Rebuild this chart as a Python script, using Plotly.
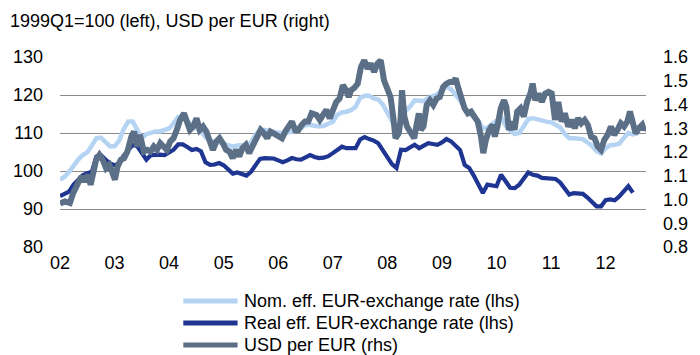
import plotly.graph_objects as go

# Monthly effective exchange rates, Jan 2002 onwards (1999Q1 = 100)
nom_eff = [
    97.7, 98.5, 99.8, 101.6, 103.0, 104.2, 104.9, 106.7, 108.6, 108.8, 107.5, 106.5,
    106.5, 108.0, 111.0, 113.0, 113.0, 111.0, 108.6, 109.7, 110.2, 110.4, 110.4, 110.8,
    111.2, 112.6, 114.2, 114.0, 113.0, 111.9, 111.2, 110.6, 108.9, 107.9, 107.7, 107.7,
    107.2, 106.8, 106.4, 106.7, 106.8, 106.4, 107.5, 109.5, 110.8, 110.8, 110.6, 110.3,
    110.0, 109.9, 110.1, 110.4, 110.6, 111.3, 112.1, 112.1, 112.0, 111.7, 111.9, 112.3,
    113.0, 114.8, 115.4, 115.6, 116.0, 116.9, 119.2, 119.8, 119.8, 119.1, 118.8, 117.5,
    115.2, 113.0, 111.0, 114.0, 115.8, 117.0, 118.6, 118.5, 118.4, 119.2, 119.8, 120.2,
    121.3, 122.2, 121.5, 120.0, 118.6, 116.5, 115.2, 114.1, 113.2, 111.2, 111.4, 112.4,
    113.3, 114.2, 112.0, 110.6, 109.7, 110.0, 111.8, 113.7, 113.9, 113.6, 113.0, 113.0,
    112.8, 112.1, 111.5, 109.8, 108.6, 108.6, 108.6, 108.4, 107.5, 106.6, 105.2, 104.6,
    106.0, 106.8, 106.9, 107.2, 108.7, 110.0, 109.6, 109.9,
]
real_eff = [
    93.4, 93.9, 94.6, 96.4, 97.8, 98.9, 99.4, 99.8, 103.8, 104.2, 103.0, 102.0,
    101.5, 102.0, 104.0, 105.6, 106.9, 106.5, 104.5, 103.0, 104.2, 104.3, 104.3, 104.2,
    105.0, 105.6, 107.0, 107.0, 106.3, 105.5, 105.8, 105.2, 102.3, 101.6, 101.7, 102.1,
    101.5, 100.5, 99.3, 99.6, 99.2, 98.8, 99.8, 101.5, 103.2, 103.4, 103.4, 103.3,
    102.8, 102.3, 102.8, 103.4, 103.1, 103.0, 103.6, 104.2, 103.7, 103.4, 103.5, 103.9,
    104.7, 105.6, 106.4, 106.0, 106.0, 106.0, 108.3, 108.9, 108.4, 108.0, 107.3, 105.6,
    103.8, 101.8, 100.8, 105.6, 105.5, 106.2, 106.9, 106.0, 106.6, 107.3, 107.1, 106.9,
    107.5, 108.4, 107.8, 106.8, 105.5, 101.6, 100.8, 98.8, 96.6, 94.2, 96.4, 96.2,
    96.0, 99.0, 97.4, 95.6, 95.5, 96.4, 98.0, 99.6, 99.0, 98.8, 98.2, 98.1,
    97.9, 97.9, 97.0, 95.3, 93.8, 94.2, 94.2, 94.0, 93.0, 92.0, 90.7, 90.7,
    92.3, 92.5, 92.3, 93.3, 94.8, 96.0, 94.3,
]

# USD per EUR, irregular observations (time in decimal years)
usd_time = [
    2002.000, 2002.090, 2002.181, 2002.241, 2002.332, 2002.392, 2002.452, 2002.512,
    2002.561, 2002.603, 2002.663, 2002.723, 2002.784, 2002.844, 2002.904, 2002.964,
    2003.007, 2003.055, 2003.115, 2003.175, 2003.236, 2003.308, 2003.356, 2003.417,
    2003.465, 2003.537, 2003.597, 2003.658, 2003.718, 2003.778, 2003.838, 2003.899,
    2003.959, 2004.019, 2004.080, 2004.140, 2004.200, 2004.272, 2004.321, 2004.381,
    2004.441, 2004.502, 2004.562, 2004.622, 2004.682, 2004.743, 2004.803, 2004.863,
    2004.923, 2004.984, 2005.044, 2005.104, 2005.165, 2005.225, 2005.285, 2005.345,
    2005.406, 2005.466, 2005.526, 2005.599, 2005.677, 2005.737, 2005.797, 2005.858,
    2005.918, 2006.008, 2006.069, 2006.129, 2006.201, 2006.250, 2006.310, 2006.370,
    2006.430, 2006.491, 2006.551, 2006.611, 2006.702, 2006.762, 2006.822, 2006.882,
    2006.943, 2007.003, 2007.063, 2007.124, 2007.184, 2007.244, 2007.292, 2007.335,
    2007.395, 2007.456, 2007.516, 2007.576, 2007.636, 2007.697, 2007.757, 2007.817,
    2007.878, 2007.938, 2007.998, 2008.058, 2008.107, 2008.149, 2008.209, 2008.239,
    2008.269, 2008.311, 2008.360, 2008.408, 2008.450, 2008.492, 2008.541, 2008.577,
    2008.613, 2008.661, 2008.721, 2008.782, 2008.842, 2008.902, 2008.962, 2009.023,
    2009.083, 2009.143, 2009.204, 2009.252, 2009.294, 2009.354, 2009.415, 2009.475,
    2009.535, 2009.595, 2009.656, 2009.716, 2009.758, 2009.806, 2009.867, 2009.927,
    2009.969, 2010.017, 2010.078, 2010.138, 2010.180, 2010.228, 2010.289, 2010.331,
    2010.379, 2010.439, 2010.500, 2010.560, 2010.620, 2010.662, 2010.711, 2010.771,
    2010.831, 2010.891, 2010.952, 2011.012, 2011.072, 2011.133, 2011.193, 2011.253,
    2011.313, 2011.374, 2011.434, 2011.494, 2011.554, 2011.615, 2011.675, 2011.735,
    2011.796, 2011.856, 2011.916, 2011.976, 2012.037, 2012.097, 2012.157, 2012.217,
    2012.278, 2012.338, 2012.398, 2012.446, 2012.489, 2012.549, 2012.609, 2012.670,
    2012.700, 2012.735,
]
usd_per_eur = [
    0.983, 0.992, 0.985, 1.027, 1.069, 1.097, 1.076, 1.104,
    1.062, 1.111, 1.167, 1.188, 1.167, 1.132, 1.146, 1.111,
    1.083, 1.139, 1.167, 1.174, 1.202, 1.265, 1.286, 1.223,
    1.272, 1.202, 1.209, 1.202, 1.223, 1.209, 1.237, 1.223,
    1.209, 1.244, 1.258, 1.293, 1.335, 1.363, 1.321, 1.293,
    1.307, 1.342, 1.293, 1.307, 1.286, 1.244, 1.209, 1.244,
    1.258, 1.237, 1.209, 1.202, 1.174, 1.209, 1.181, 1.216,
    1.230, 1.195, 1.223, 1.265, 1.293, 1.279, 1.258, 1.286,
    1.279, 1.272, 1.258, 1.286, 1.314, 1.328, 1.293, 1.293,
    1.314, 1.328, 1.328, 1.363, 1.356, 1.335, 1.356, 1.377,
    1.342, 1.384, 1.411, 1.425, 1.481, 1.460, 1.432, 1.460,
    1.470, 1.488, 1.558, 1.586, 1.551, 1.572, 1.537, 1.572,
    1.586, 1.502, 1.474, 1.432, 1.349, 1.258, 1.279, 1.328,
    1.460, 1.349, 1.307, 1.286, 1.265, 1.258, 1.321, 1.363,
    1.293, 1.307, 1.398, 1.418, 1.398, 1.425, 1.432, 1.474,
    1.488, 1.495, 1.495, 1.509, 1.474, 1.425, 1.384, 1.363,
    1.370, 1.349, 1.328, 1.265, 1.195, 1.251, 1.293, 1.314,
    1.265, 1.307, 1.384, 1.418, 1.391, 1.293, 1.328, 1.293,
    1.370, 1.384, 1.349, 1.411, 1.446, 1.488, 1.418, 1.446,
    1.411, 1.446, 1.453, 1.446, 1.335, 1.411, 1.328, 1.363,
    1.307, 1.335, 1.300, 1.342, 1.321, 1.335, 1.314, 1.265,
    1.258, 1.223, 1.209, 1.251, 1.272, 1.307, 1.272, 1.293,
    1.321, 1.307, 1.328, 1.370, 1.335, 1.279, 1.300, 1.314,
    1.293, 1.305,
]

year_ticks = list(range(2002, 2013))
year_labels = ["02", "03", "04", "05", "06", "07", "08", "09", "10", "11", "12"]
left_ticks = [80, 90, 100, 110, 120, 130]
right_ticks = [0.8, 0.9, 1.0, 1.1, 1.2, 1.3, 1.4, 1.5, 1.6]

series_names = [
    "Nom. eff. EUR-exchange rate (lhs)",
    "Real eff. EUR-exchange rate (lhs)",
    "USD per EUR (rhs)",
]
series_colors = ["#b5d3f2", "#1f3592", "#5b6f86"]
series_widths = [4.5, 4.2, 6]

FONT = "Liberation Sans, Arial, sans-serif"

nom_time = [2002 + m / 12 for m in range(len(nom_eff))]
real_time = [2002 + m / 12 for m in range(len(real_eff))]

fig = go.Figure()
fig.add_trace(go.Scatter(x=nom_time, y=nom_eff, mode="lines", name=series_names[0],
                         line=dict(color=series_colors[0], width=series_widths[0])))
fig.add_trace(go.Scatter(x=real_time, y=real_eff, mode="lines", name=series_names[1],
                         line=dict(color=series_colors[1], width=series_widths[1])))
fig.add_trace(go.Scatter(x=usd_time, y=usd_per_eur, mode="lines", name=series_names[2],
                         yaxis="y2",
                         line=dict(color=series_colors[2], width=series_widths[2])))

# Legend drawn below the plot: a short line sample and a label per series
legend_rows_y = [-0.284, -0.40, -0.516]
shapes = []
annotations = []
for name, color, y in zip(series_names, series_colors, legend_rows_y):
    shapes.append(dict(type="line", xref="paper", yref="paper",
                       x0=0.2104, x1=0.303, y0=y, y1=y,
                       line=dict(color=color, width=5)))
    annotations.append(dict(xref="paper", yref="paper", x=0.3098, y=y,
                            text=name, showarrow=False, xanchor="left",
                            yanchor="middle",
                            font=dict(family=FONT, size=18, color="#000000")))

fig.update_layout(
    width=700, height=355,
    margin=dict(l=60, r=46, t=57, b=108),
    paper_bgcolor="white", plot_bgcolor="white",
    showlegend=False,
    font=dict(family=FONT, size=18, color="#000000"),
    title=dict(text="1999Q1=100 (left), USD per EUR (right)",
               x=10 / 700, xanchor="left", xref="container",
               y=1 - 21 / 355, yanchor="middle", yref="container",
               font=dict(family=FONT, size=18, color="#000000")),
    xaxis=dict(range=[2002.0, 2012.74], tickvals=year_ticks, ticktext=year_labels,
               showgrid=False, zeroline=False, showline=False, ticks="",
               ticklabelstandoff=3,
               tickfont=dict(family=FONT, size=18)),
    yaxis=dict(range=[80, 130], tickvals=left_ticks, showgrid=True,
               gridcolor="#8a8a8a", gridwidth=1, zeroline=False, showline=False,
               ticks="", ticklabelstandoff=16,
               tickfont=dict(family=FONT, size=18)),
    yaxis2=dict(range=[0.8, 1.6], tickvals=right_ticks,
                ticktext=[f"{v:.1f}" for v in right_ticks],
                overlaying="y", side="right", showgrid=False, zeroline=False,
                showline=False, ticks="", ticklabelstandoff=16,
                tickfont=dict(family=FONT, size=18)),
    shapes=shapes,
    annotations=annotations,
)

fig.write_html("out.html")
